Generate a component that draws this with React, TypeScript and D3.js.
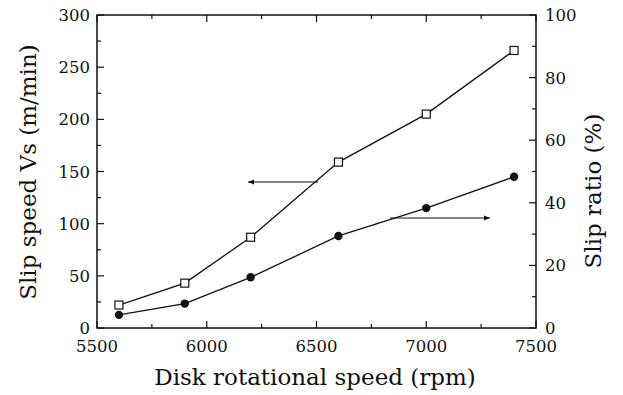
import React from "react";
import * as d3 from "d3";

const rpm = [5600, 5900, 6200, 6600, 7000, 7400];
const slipSpeed = [22, 43, 87, 159, 205, 266];
const slipRatio = [4.2, 7.8, 16.2, 29.4, 38.3, 48.3];
const xTicks = [5500, 6000, 6500, 7000, 7500];
const yLeftTicks = [0, 50, 100, 150, 200, 250, 300];
const yRightTicks = [0, 20, 40, 60, 80, 100];

const W = 623, H = 395;
const L = 97, R = 536, T = 15, B = 328;
const font = "'DejaVu Serif', 'Liberation Serif', serif";
const tickStyle = { fontFamily: font, fontSize: 16.5 };
const titleStyle = { fontFamily: font, fontSize: 23 };

export default function App() {
  const x = d3.scaleLinear().domain([5500, 7500]).range([L, R]);
  const yL = d3.scaleLinear().domain([0, 300]).range([B, T]);
  const yR = d3.scaleLinear().domain([0, 100]).range([B, T]);
  const lineL = d3.line<number>().x((_, i) => x(rpm[i])).y((d) => yL(d));
  const lineR = d3.line<number>().x((_, i) => x(rpm[i])).y((d) => yR(d));
  const xMinor = d3.range(5500, 7501, 250);
  const yLMinor = d3.range(0, 301, 25);
  const yRMinor = d3.range(0, 101, 10);
  const stroke = "#111";
  return (
    <svg width={W} height={H} style={{ position: "absolute", left: 0, top: 0 }}>
      <defs>
        <marker id="ah" viewBox="0 0 10 10" refX="10" refY="5" markerWidth="8" markerHeight="6" orient="auto-start-reverse" markerUnits="userSpaceOnUse">
          <path d="M0,1 L10,5 L0,9 z" fill={stroke} />
        </marker>
      </defs>
      <rect x={0} y={0} width={W} height={H} fill="#fff" />
      <rect x={L} y={T} width={R - L} height={B - T} fill="none" stroke={stroke} strokeWidth={1.5} />
      {xMinor.map((v) => {
        const major = v % 500 === 0;
        const len = major ? 7 : 4;
        return (
          <g key={"x" + v}>
            <line x1={x(v)} x2={x(v)} y1={B} y2={B - len} stroke={stroke} strokeWidth={1.2} />
            <line x1={x(v)} x2={x(v)} y1={T} y2={T + len} stroke={stroke} strokeWidth={1.2} />
          </g>
        );
      })}
      {yLMinor.map((v) => {
        const len = v % 50 === 0 ? 7 : 4;
        return <line key={"yl" + v} x1={L} x2={L + len} y1={yL(v)} y2={yL(v)} stroke={stroke} strokeWidth={1.2} />;
      })}
      {yRMinor.map((v) => {
        const len = v % 20 === 0 ? 7 : 4;
        return <line key={"yr" + v} x1={R} x2={R - len} y1={yR(v)} y2={yR(v)} stroke={stroke} strokeWidth={1.2} />;
      })}
      {xTicks.map((v) => (
        <text key={"xt" + v} x={x(v)} y={352} textAnchor="middle" style={tickStyle} fill={stroke}>{v}</text>
      ))}
      {yLeftTicks.map((v) => (
        <text key={"ylt" + v} x={90} y={yL(v) + 6} textAnchor="end" style={tickStyle} fill={stroke}>{v}</text>
      ))}
      {yRightTicks.map((v) => (
        <text key={"yrt" + v} x={545} y={yR(v) + 6} textAnchor="start" style={tickStyle} fill={stroke}>{v}</text>
      ))}
      <text x={315} y={385} textAnchor="middle" style={titleStyle} fill={stroke}>Disk rotational speed (rpm)</text>
      <text transform={`translate(36,172) rotate(-90)`} textAnchor="middle" style={titleStyle} fill={stroke}>Slip speed Vs (m/min)</text>
      <text transform={`translate(601,191) rotate(-90)`} textAnchor="middle" style={titleStyle} fill={stroke}>Slip ratio (%)</text>
      <path d={lineL(slipSpeed) || ""} fill="none" stroke={stroke} strokeWidth={1.3} />
      <path d={lineR(slipRatio) || ""} fill="none" stroke={stroke} strokeWidth={1.3} />
      {slipSpeed.map((v, i) => (
        <rect key={"s" + i} x={x(rpm[i]) - 4} y={yL(v) - 4} width={8} height={8} fill="#fff" stroke={stroke} strokeWidth={1.2} />
      ))}
      {slipRatio.map((v, i) => (
        <circle key={"c" + i} cx={x(rpm[i])} cy={yR(v)} r={4.2} fill={stroke} />
      ))}
      <line x1={318} x2={248} y1={182} y2={182} stroke={stroke} strokeWidth={1.2} markerEnd="url(#ah)" />
      <line x1={390} x2={490} y1={218} y2={218} stroke={stroke} strokeWidth={1.2} markerEnd="url(#ah)" />
    </svg>
  );
}
